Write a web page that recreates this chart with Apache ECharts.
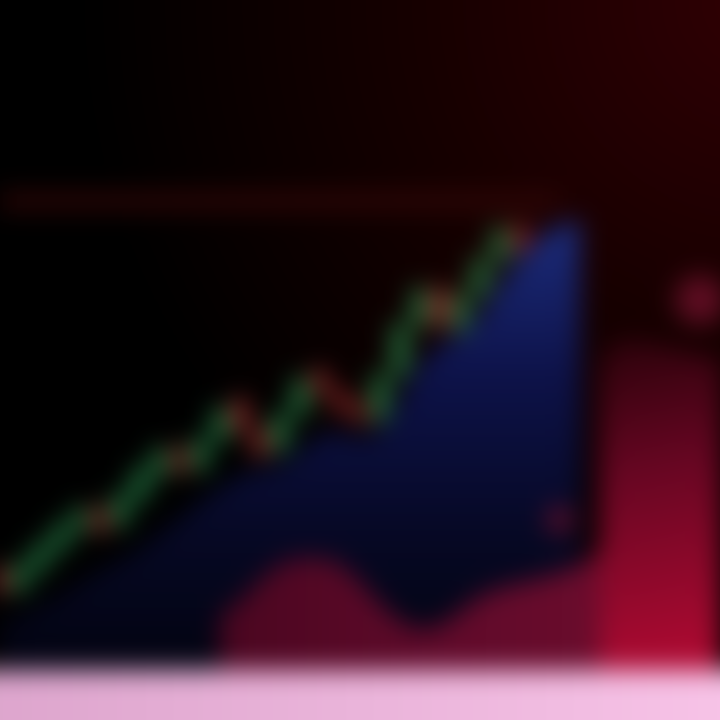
<!DOCTYPE html>
<html>
<head>
<meta charset="utf-8">
<script src="https://cdn.jsdelivr.net/npm/echarts@6/dist/echarts.min.js"></script>
<style>
  html, body { margin: 0; padding: 0; background: #000; overflow: hidden; width: 720px; height: 720px; }
  #chart { position: absolute; left: -40px; top: -40px; width: 800px; height: 800px; filter: blur(13px); }
</style>
</head>
<body>
<div id="chart"></div>
<script>
// ---- data ----
const categories = Array.from({ length: 37 }, (_, i) => 'D' + (i + 1));

// candles: [open, close, low, high]
const candles = [
  [14.9, 11.9, 11.0, 15.8], [11.9, 15.7, 11.2, 16.4], [14.9, 18.7, 14.2, 19.4],
  [17.9, 21.6, 17.2, 22.4], [20.9, 23.9, 20.1, 24.8], [23.9, 20.9, 20.0, 24.6],
  [21.6, 26.1, 20.9, 26.9], [25.4, 29.9, 24.6, 30.7], [29.1, 32.8, 28.4, 33.6],
  [32.8, 29.9, 29.1, 33.5], [29.9, 34.3, 29.2, 35.1], [34.3, 38.8, 33.6, 39.7],
  [40.3, 35.8, 35.1, 41.0], [35.8, 32.1, 31.3, 36.6], [32.8, 38.1, 32.1, 38.8],
  [38.1, 43.3, 37.3, 44.2], [44.5, 41.5, 40.7, 45.4], [41.5, 38.8, 38.1, 42.2],
  [39.6, 37.3, 36.6, 40.3], [37.3, 44.0, 36.6, 44.8], [44.0, 51.5, 43.3, 52.2],
  [51.5, 56.7, 50.7, 57.6], [56.7, 51.5, 50.7, 57.3], [50.7, 56.0, 50.0, 56.7],
  [56.0, 61.2, 55.2, 61.9], [61.2, 65.7, 60.4, 66.4], [66.0, 63.0, 62.2, 66.9]
];

const volumeArea = [6.7, 8.2, 9.7, 11.2, 13.1, 14.9, 16.4, 18.2, 20.6, 22.7, 25.1, 27.2,
  29.1, 29.9, 30.6, 32.8, 35.1, 35.5, 34.6, 35.8, 40.3, 45.5, 48.5, 50.0, 53.0, 57.5,
  61.5, 64.5, 66.3, 67.2];

const baseArea = ['-', '-', '-', '-', '-', '-', '-', '-', '-', '-', '-',
  8.2, 10.4, 13.4, 15.7, 16.7, 16.7, 15.7, 13.2, 10.0, 7.5, 6.2, 6.8, 8.8, 11.0,
  12.2, 13.0, 13.7, 14.6, 15.7, 17.9];

const bandArea = ['-', '-', '-', '-', '-', '-', '-', '-', '-', '-', '-', '-', '-', '-',
  '-', '-', '-', '-', '-', '-', '-', '-', '-', '-', '-', '-', '-', '-', '-', '-',
  46.0, 49.3, 49.3, 48.5, 47.8, 47.0, 46.3];

const glowPoints = [[35, 55.2], [28, 22.4]];
const resistanceLevel = 70.1;

// ---- chart ----
const chart = echarts.init(document.getElementById('chart'), null, { renderer: 'canvas' });
chart.setOption({
  animation: false,
  backgroundColor: {
    type: 'radial', x: 1, y: 0.05, r: 0.85,
    colorStops: [
      { offset: 0, color: '#300004' },
      { offset: 0.5, color: '#160000' },
      { offset: 1, color: '#000000' }
    ]
  },
  grid: { left: 40, right: 40, top: 40, bottom: 90 },
  xAxis: {
    type: 'category', data: categories, boundaryGap: false,
    axisLine: { show: false }, axisTick: { show: false }, axisLabel: { show: false },
    splitLine: { show: false }
  },
  yAxis: {
    type: 'value', min: 0, max: 100, show: false, splitLine: { show: false }
  },
  graphic: [{
    type: 'rect', left: 0, top: 710, z: 100,
    shape: { width: 800, height: 90 },
    style: {
      fill: {
        type: 'linear', x: 0, y: 0, x2: 1, y2: 0,
        colorStops: [
          { offset: 0, color: '#dca4cc' },
          { offset: 1, color: '#f8c4e8' }
        ]
      }
    }
  }],
  series: [
    {
      name: 'band', type: 'line', data: bandArea, symbol: 'none', smooth: 0.3, z: 1,
      lineStyle: { width: 0 },
      areaStyle: {
        opacity: 1,
        color: {
          type: 'linear', x: 0, y: 0, x2: 0.6, y2: 1,
          colorStops: [
            { offset: 0, color: '#2a020a' },
            { offset: 0.4, color: '#660622' },
            { offset: 1, color: '#b00a32' }
          ]
        }
      }
    },
    {
      name: 'volume', type: 'line', data: volumeArea, symbol: 'none', smooth: 0.3, z: 2,
      lineStyle: { width: 0 },
      areaStyle: {
        opacity: 1,
        color: {
          type: 'linear', x: 0, y: 0, x2: 0, y2: 1,
          colorStops: [
            { offset: 0, color: '#1c2c7c' },
            { offset: 0.35, color: '#0d1248' },
            { offset: 0.7, color: '#060824' },
            { offset: 1, color: '#020310' }
          ]
        }
      }
    },
    {
      name: 'base', type: 'line', data: baseArea, symbol: 'none', smooth: 0.4, z: 3,
      lineStyle: { width: 0 },
      areaStyle: {
        opacity: 1,
        color: {
          type: 'linear', x: 0, y: 0, x2: 1, y2: 0,
          colorStops: [
            { offset: 0, color: '#4a0620' },
            { offset: 0.6, color: '#600a2a' },
            { offset: 1, color: '#6a0c2c' }
          ]
        }
      }
    },
    {
      name: 'glow', type: 'scatter', data: glowPoints, z: 4,
      symbolSize: function (v) { return v[1] > 40 ? 50 : 28; },
      itemStyle: { color: '#70102a', opacity: 0.8 }
    },
    {
      name: 'price', type: 'candlestick', data: candles, z: 5,
      barWidth: 12,
      itemStyle: {
        color: '#30a058', color0: '#c03838',
        borderColor: '#30a058', borderColor0: '#c03838'
      },
      markLine: {
        silent: true, symbol: 'none', label: { show: false },
        lineStyle: { color: '#300606', width: 16, type: 'solid' },
        data: [[{ coord: [0, resistanceLevel] }, { coord: [28, resistanceLevel] }]]
      }
    }
  ]
});
</script>
</body>
</html>
